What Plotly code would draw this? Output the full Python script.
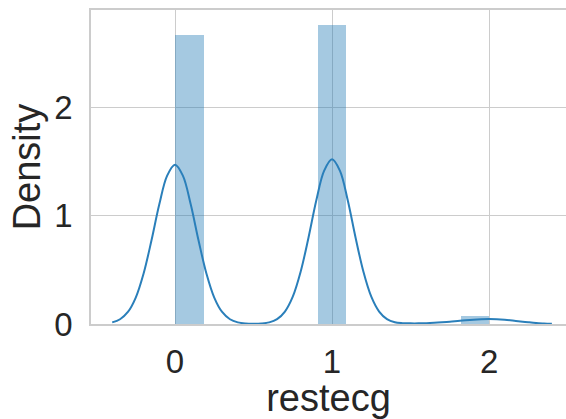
import plotly.graph_objects as go

# Histogram (density) of restecg, 11 bins between 0 and 2
bin_edges = [0.0, 0.1818, 0.3636, 0.5455, 0.7273, 0.9091, 1.0909, 1.2727, 1.4545, 1.6364, 1.8182, 2.0]
bin_density = [2.668, 0.0, 0.0, 0.0, 0.0, 2.759, 0.0, 0.0, 0.0, 0.0, 0.0726]

# KDE curve
kde_x = [-0.40, -0.35, -0.30, -0.25, -0.20, -0.15, -0.10, -0.05, 0.00, 0.05,
         0.10, 0.15, 0.20, 0.25, 0.30, 0.35, 0.40, 0.45, 0.50, 0.55,
         0.60, 0.65, 0.70, 0.75, 0.80, 0.85, 0.90, 0.95, 1.00, 1.05,
         1.10, 1.15, 1.20, 1.25, 1.30, 1.35, 1.40, 1.45, 1.50, 1.55,
         1.60, 1.65, 1.70, 1.75, 1.80, 1.85, 1.90, 1.95, 2.00, 2.05,
         2.10, 2.15, 2.20, 2.25, 2.30, 2.35, 2.40]
kde_y = [0.015, 0.044, 0.111, 0.244, 0.466, 0.770, 1.104, 1.369, 1.470, 1.369,
         1.104, 0.770, 0.466, 0.244, 0.111, 0.044, 0.015, 0.005, 0.003, 0.005,
         0.015, 0.045, 0.115, 0.252, 0.482, 0.796, 1.142, 1.415, 1.520, 1.415,
         1.142, 0.796, 0.482, 0.252, 0.115, 0.045, 0.016, 0.008, 0.006, 0.006,
         0.008, 0.011, 0.015, 0.020, 0.027, 0.034, 0.040, 0.044, 0.046, 0.044,
         0.039, 0.032, 0.024, 0.016, 0.009, 0.005, 0.002]

x_ticks = [0, 1, 2]
y_ticks = [0, 1, 2]

centers = [(a + b) / 2 for a, b in zip(bin_edges[:-1], bin_edges[1:])]
widths = [b - a for a, b in zip(bin_edges[:-1], bin_edges[1:])]

fig = go.Figure()
fig.add_trace(go.Bar(
    x=centers, y=bin_density, width=widths,
    marker=dict(color="rgba(31,119,180,0.4)", line=dict(width=0)),
    showlegend=False, hoverinfo="skip",
))
fig.add_trace(go.Scatter(
    x=kde_x, y=kde_y, mode="lines",
    line=dict(color="#2a7fba", width=2, shape="spline"),
    showlegend=False,
))

text_color = "#262626"
grid_color = "#cccccc"
fig.update_layout(
    width=566, height=419,
    margin=dict(l=91, r=0, t=10, b=95),
    plot_bgcolor="white", paper_bgcolor="white",
    font=dict(family="Liberation Sans, Arial, sans-serif", color=text_color, size=33),
    bargap=0,
)
fig.update_xaxes(
    range=[-0.535, 2.49],
    tickvals=x_ticks, ticktext=[str(t) for t in x_ticks],
    showgrid=True, gridcolor=grid_color, gridwidth=1,
    showline=True, linecolor=grid_color, linewidth=1.5, mirror=True,
    zeroline=False, ticks="", ticklabelstandoff=8,
    tickfont=dict(size=33),
    title=dict(text="restecg", font=dict(size=38), standoff=1),
)
fig.update_yaxes(
    range=[0, 2.897],
    tickvals=y_ticks, ticktext=[str(t) for t in y_ticks],
    showgrid=True, gridcolor=grid_color, gridwidth=1,
    showline=True, linecolor=grid_color, linewidth=1.5,
    zeroline=False, ticks="", ticklabelstandoff=10,
    tickfont=dict(size=33),
    title=dict(text="Density", font=dict(size=38), standoff=2),
)

fig.write_html("out.html")
